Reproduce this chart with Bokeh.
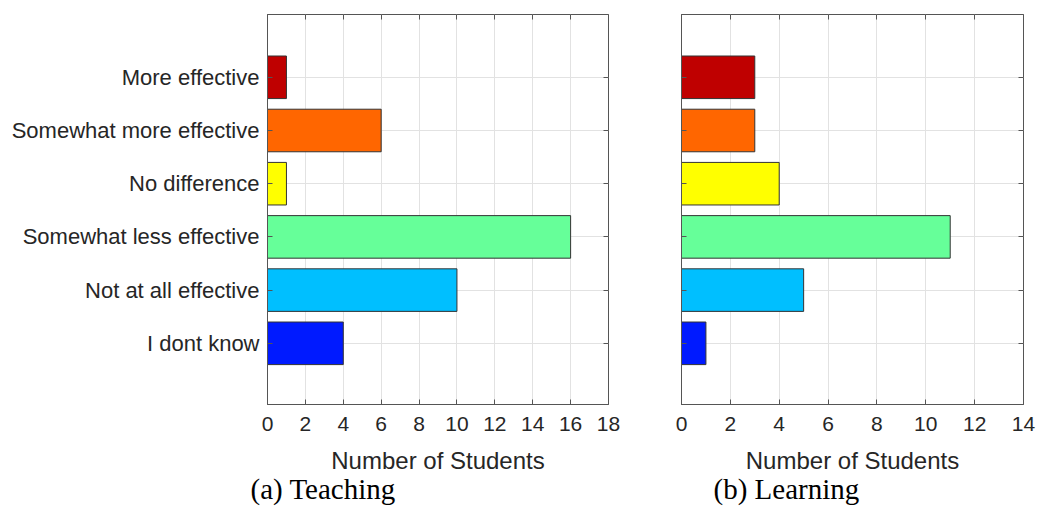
from bokeh.plotting import figure
from bokeh.layouts import row
from bokeh.models import ColumnDataSource, FixedTicker, LinearAxis, Range1d, Title
from bokeh.embed import file_html
from bokeh.resources import INLINE

categories = ["More effective", "Somewhat more effective", "No difference",
              "Somewhat less effective", "Not at all effective", "I dont know"]
teaching = [1, 6, 1, 16, 10, 4]
learning = [3, 3, 4, 11, 5, 1]
bar_colors = ["#BF0000", "#FF6600", "#FFFF00", "#66FF99", "#00BFFF", "#001AFF"]
teaching_ticks = [0, 2, 4, 6, 8, 10, 12, 14, 16, 18]
learning_ticks = [0, 2, 4, 6, 8, 10, 12, 14]
x_label = "Number of Students"
captions = ["(a)  Teaching", "(b)  Learning"]

positions = [len(categories) - i for i in range(len(categories))]
AX = "#555555"
TXT = "#262626"
SANS = "Liberation Sans"


def hidden_axis(ticks):
    return LinearAxis(ticker=FixedTicker(ticks=ticks), major_label_text_font_size="1px",
                      major_label_text_color=None, major_label_standoff=0,
                      major_tick_in=5, major_tick_out=0, minor_tick_line_color=None,
                      axis_line_color=None, major_tick_line_color=AX)


def panel(values, xticks, caption, show_labels, width, mb_left, mb_right, cap_offset):
    src = ColumnDataSource(dict(y=positions, v=values, c=bar_colors, cat=categories))
    p = figure(width=width, height=507, output_backend="svg", toolbar_location=None,
               x_range=Range1d(xticks[0], xticks[-1]), y_range=Range1d(-0.15, 7.18),
               min_border_left=mb_left, min_border_right=mb_right,
               min_border_top=14, min_border_bottom=103,
               background_fill_color="white", border_fill_color="white")
    p.outline_line_color = AX
    p.outline_line_width = 1
    p.hbar(y="y", right="v", left=0, height=0.8, fill_color="c",
           line_color="#333333", line_width=1, source=src)

    xa = p.xaxis[0]
    xa.ticker = FixedTicker(ticks=xticks)
    xa.axis_label = x_label
    xa.axis_label_text_font = SANS
    xa.axis_label_text_font_style = "normal"
    xa.axis_label_text_font_size = "24px"
    xa.axis_label_text_color = TXT
    xa.axis_label_standoff = 13
    xa.major_label_text_font = SANS
    xa.major_label_text_font_size = "21px"
    xa.major_label_text_color = TXT
    xa.major_label_standoff = 12
    xa.major_tick_in = 5
    xa.major_tick_out = 0
    xa.minor_tick_line_color = None
    xa.axis_line_color = AX
    xa.major_tick_line_color = AX

    ya = p.yaxis[0]
    ya.ticker = FixedTicker(ticks=positions)
    ya.major_tick_in = 5
    ya.major_tick_out = 0
    ya.minor_tick_line_color = None
    ya.axis_line_color = AX
    ya.major_tick_line_color = AX
    if show_labels:
        ya.major_label_overrides = {pos: cat for pos, cat in zip(positions, categories)}
        ya.major_label_text_font = SANS
        ya.major_label_text_font_size = "22px"
        ya.major_label_text_color = TXT
        ya.major_label_standoff = 8
    else:
        ya.major_label_text_font_size = "1px"
        ya.major_label_text_color = None
        ya.major_label_standoff = 0

    p.add_layout(hidden_axis(xticks), "above")
    p.add_layout(hidden_axis(positions), "right")

    p.xgrid.ticker = FixedTicker(ticks=xticks)
    p.ygrid.ticker = FixedTicker(ticks=positions)
    p.xgrid.grid_line_color = "#e2e2e2"
    p.ygrid.grid_line_color = "#e2e2e2"

    t = Title(text=caption, align="left", offset=cap_offset, standoff=-12,
              text_font="Liberation Serif", text_font_style="normal",
              text_font_size="29px", text_color="black")
    p.add_layout(t, "below")
    return p


p1 = panel(teaching, teaching_ticks, captions[0], True, 640, 267, 32, -17)
p2 = panel(learning, learning_ticks, captions[1], False, 397, 41, 14, 32)
layout = row(p1, p2)

open("out.html", "w").write(file_html(layout, INLINE))
